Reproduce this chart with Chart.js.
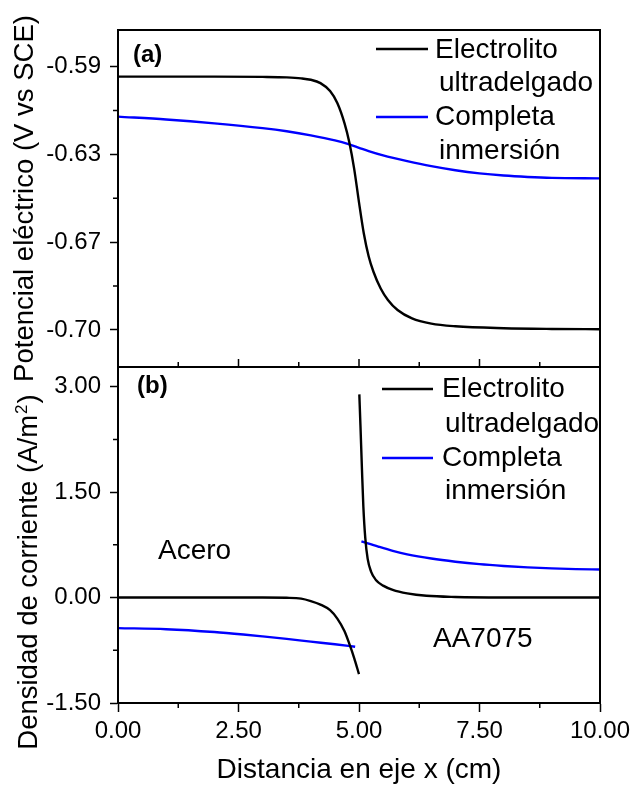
<!DOCTYPE html>
<html>
<head>
<meta charset="utf-8">
<script src="https://cdn.jsdelivr.net/npm/chart.js@4.4.1/dist/chart.umd.min.js"></script>
<style>
  html, body { margin: 0; padding: 0; background: #ffffff; }
  canvas { display: block; }
</style>
</head>
<body>
<canvas id="c" width="631" height="787"></canvas>
<script>
// ---------------- DATA ----------------
// Panel (a): electric potential (V vs SCE)
const xTopElectro = [0, 2, 3, 3.5, 3.8, 4.0, 4.2, 4.4, 4.55, 4.7, 4.8, 4.9, 5.0, 5.1, 5.2, 5.3, 5.45, 5.6, 5.8, 6.1, 6.5, 7.0, 8.0, 9.0, 10];
const yTopElectro = [-0.5975, -0.5975, -0.5976, -0.5978, -0.5982, -0.5988, -0.6002, -0.6035, -0.6085, -0.6170, -0.6250, -0.6360, -0.6500, -0.6630, -0.6725, -0.6790, -0.6860, -0.6908, -0.6950, -0.6985, -0.7007, -0.7018, -0.7026, -0.7029, -0.7030];

const xTopInmersion = [0, 1, 2, 3, 3.5, 4, 4.5, 4.8, 5.0, 5.2, 5.5, 6.0, 6.5, 7.0, 7.5, 8.0, 8.5, 9.0, 10];
const yTopInmersion = [-0.6142, -0.6154, -0.6170, -0.6190, -0.6203, -0.6220, -0.6241, -0.6258, -0.6272, -0.6286, -0.6304, -0.6328, -0.6349, -0.6366, -0.6379, -0.6388, -0.6394, -0.6398, -0.6400];

// Panel (b): current density (A/m2) - left (Acero) and right (AA7075) segments
const xBotElectroLeft = [0, 1, 2, 3, 3.5, 3.8, 4.0, 4.2, 4.4, 4.55, 4.7, 4.8, 4.9, 5.0];
const yBotElectroLeft = [0, 0, 0, 0, -0.003, -0.015, -0.05, -0.10, -0.18, -0.30, -0.48, -0.66, -0.86, -1.09];
const xBotElectroRight = [5.007, 5.03, 5.06, 5.09, 5.13, 5.18, 5.25, 5.35, 5.5, 5.7, 6.0, 6.4, 7.0, 8.0, 10];
const yBotElectroRight = [2.89, 2.45, 1.85, 1.30, 0.85, 0.55, 0.37, 0.25, 0.17, 0.11, 0.06, 0.025, 0.008, 0.001, 0];

const xBotInmersionLeft = [0, 1, 2, 2.6, 3, 3.5, 4, 4.5, 4.92];
const yBotInmersionLeft = [-0.435, -0.45, -0.49, -0.525, -0.552, -0.588, -0.627, -0.664, -0.70];
const xBotInmersionRight = [5.05, 5.4, 5.7, 6.0, 6.5, 7.0, 7.5, 8.0, 8.5, 9.0, 9.5, 10];
const yBotInmersionRight = [0.80, 0.725, 0.665, 0.615, 0.555, 0.51, 0.475, 0.45, 0.43, 0.415, 0.405, 0.40];

// Ticks
const xTickValues = [0, 2.5, 5, 7.5, 10];
const xTickLabels = ['0.00', '2.50', '5.00', '7.50', '10.00'];
const xMinorValues = [1.25, 3.75, 6.25, 8.75];
const topTickValues = [-0.70333, -0.66667, -0.63, -0.59333];
const topTickLabels = ['-0.70', '-0.67', '-0.63', '-0.59'];
const topMinorValues = [-0.685, -0.64833, -0.61167];
const botTickValues = [-1.5, 0, 1.5, 3.0];
const botTickLabels = ['-1.50', '0.00', '1.50', '3.00'];
const botMinorValues = [-0.75, 0.75, 2.25];

// Texts
const seriesNames = ['Electrolito ultradelgado', 'Completa inmersión'];
const legendLines = [['Electrolito', 'ultradelgado'], ['Completa', 'inmersión']];
const panelLabels = ['(a)', '(b)'];
const regionLabels = ['Acero', 'AA7075'];
const xTitle = 'Distancia en eje x (cm)';
const yTopTitle = 'Potencial eléctrico (V vs SCE)';
const yBotTitleParts = ['Densidad de corriente (A/m', '2', ')'];

// ---------------- STYLE ----------------
const FONT = "'Liberation Sans', Arial, Helvetica, sans-serif";
const BLACK = '#000000';
const BLUE = '#0000ff';

function pts(xs, ys) { return xs.map((x, i) => ({ x: x, y: ys[i] })); }
function gapJoin(a, b) {
  const gx = (a[a.length - 1].x + b[0].x) / 2;
  return a.concat([{ x: gx, y: null }], b);
}

const framePlugin = {
  id: 'frame',
  afterDraw(chart) {
    const { ctx, chartArea: a, scales } = chart;
    const sx = scales.x, yT = scales.yTop, yB = scales.yBot;
    ctx.save();
    ctx.strokeStyle = BLACK;
    ctx.lineWidth = 2;
    ctx.strokeRect(a.left, a.top, a.right - a.left, a.bottom - a.top);
    const mid = yT.bottom;
    ctx.beginPath(); ctx.moveTo(a.left, mid); ctx.lineTo(a.right, mid); ctx.stroke();
    ctx.lineWidth = 1.5;
    ctx.beginPath();
    xTickValues.forEach(v => { const p = sx.getPixelForValue(v); ctx.moveTo(p, mid); ctx.lineTo(p, mid - 8); });
    xMinorValues.forEach(v => { const p = sx.getPixelForValue(v); ctx.moveTo(p, mid); ctx.lineTo(p, mid - 5); });
    xMinorValues.forEach(v => { const p = sx.getPixelForValue(v); ctx.moveTo(p, a.bottom); ctx.lineTo(p, a.bottom + 5); });
    topMinorValues.forEach(v => { const p = yT.getPixelForValue(v); ctx.moveTo(a.left, p); ctx.lineTo(a.left - 5, p); });
    botMinorValues.forEach(v => { const p = yB.getPixelForValue(v); ctx.moveTo(a.left, p); ctx.lineTo(a.left - 5, p); });
    ctx.stroke();
    ctx.restore();
  }
};

const textPlugin = {
  id: 'texts',
  afterDraw(chart) {
    const ctx = chart.ctx;
    const ds = chart.data.datasets;
    ctx.save();
    ctx.fillStyle = BLACK;
    ctx.textAlign = 'left';
    ctx.textBaseline = 'alphabetic';
    ctx.font = 'bold 24px ' + FONT;
    ctx.fillText(panelLabels[0], 133, 62);
    ctx.fillText(panelLabels[1], 137, 393);
    ctx.font = '28px ' + FONT;
    ctx.fillText(regionLabels[0], 158, 559);
    ctx.fillText(regionLabels[1], 433, 647);

    function legend(x0, x1, tx, tx2, entries) {
      entries.forEach(e => {
        ctx.strokeStyle = e.color; ctx.lineWidth = 2.4;
        ctx.beginPath(); ctx.moveTo(x0, e.ly); ctx.lineTo(x1, e.ly); ctx.stroke();
        ctx.fillStyle = BLACK;
        ctx.fillText(e.lines[0], tx, e.b1);
        ctx.fillText(e.lines[1], tx2, e.b2);
      });
    }
    legend(376, 428, 435, 439, [
      { color: ds[0].borderColor, ly: 49, lines: legendLines[0], b1: 58, b2: 91 },
      { color: ds[1].borderColor, ly: 117, lines: legendLines[1], b1: 125, b2: 159 }
    ]);
    legend(382, 433, 442, 445, [
      { color: ds[2].borderColor, ly: 389, lines: legendLines[0], b1: 397, b2: 432 },
      { color: ds[3].borderColor, ly: 458, lines: legendLines[1], b1: 466, b2: 499 }
    ]);

    const fs = 27.5;
    ctx.save();
    ctx.translate(37, 572);
    ctx.rotate(-Math.PI / 2);
    ctx.font = fs + 'px ' + FONT;
    const w1 = ctx.measureText(yBotTitleParts[0]).width;
    const w3 = ctx.measureText(yBotTitleParts[2]).width;
    ctx.font = (fs * 0.62) + 'px ' + FONT;
    const w2 = ctx.measureText(yBotTitleParts[1]).width;
    let s = -(w1 + w2 + w3 + 2) / 2;
    ctx.font = fs + 'px ' + FONT;
    ctx.fillText(yBotTitleParts[0], s, 0);
    ctx.font = (fs * 0.62) + 'px ' + FONT;
    ctx.fillText(yBotTitleParts[1], s + w1 + 1, -fs * 0.38);
    ctx.font = fs + 'px ' + FONT;
    ctx.fillText(yBotTitleParts[2], s + w1 + w2 + 2, 0);
    ctx.restore();
    ctx.restore();
  }
};

const tickFont = { family: FONT, size: 24 };
const gridOpts = { display: true, drawOnChartArea: false, drawTicks: true, tickLength: 8, tickWidth: 1.5, tickColor: BLACK, color: BLACK };

new Chart(document.getElementById('c'), {
  type: 'line',
  data: {
    datasets: [
      { label: seriesNames[0], data: pts(xTopElectro, yTopElectro), yAxisID: 'yTop', borderColor: BLACK },
      { label: seriesNames[1], data: pts(xTopInmersion, yTopInmersion), yAxisID: 'yTop', borderColor: BLUE },
      { label: seriesNames[0], data: gapJoin(pts(xBotElectroLeft, yBotElectroLeft), pts(xBotElectroRight, yBotElectroRight)), yAxisID: 'yBot', borderColor: BLACK },
      { label: seriesNames[1], data: gapJoin(pts(xBotInmersionLeft, yBotInmersionLeft), pts(xBotInmersionRight, yBotInmersionRight)), yAxisID: 'yBot', borderColor: BLUE }
    ]
  },
  options: {
    responsive: false,
    animation: false,
    layout: { padding: { left: 0, right: 31, top: 30, bottom: 0 } },
    plugins: { legend: { display: false }, tooltip: { enabled: false } },
    elements: {
      point: { radius: 0 },
      line: { borderWidth: 2.4, cubicInterpolationMode: 'monotone', fill: false }
    },
    scales: {
      x: {
        type: 'linear', min: 0, max: 10, position: 'bottom',
        afterBuildTicks: s => { s.ticks = xTickValues.map(v => ({ value: v })); },
        afterFit: s => { s.height = 84; s.paddingLeft = 0; s.paddingRight = 0; },
        ticks: { autoSkip: false, maxRotation: 0, padding: 5, color: BLACK, font: tickFont, callback: (v, i) => xTickLabels[i] },
        grid: Object.assign({}, gridOpts, { tickLength: 9 }),
        border: { display: true, color: BLACK, width: 2 },
        title: { display: true, text: xTitle, color: BLACK, font: { family: FONT, size: 28 }, padding: { top: 0, bottom: 0 } }
      },
      yTop: {
        type: 'linear', position: 'left', stack: 'panels', stackWeight: 337, weight: 1,
        min: -0.7188, max: -0.578,
        afterBuildTicks: s => { s.ticks = topTickValues.map(v => ({ value: v })); },
        afterFit: s => { s.width = 118; s.paddingTop = 0; s.paddingBottom = 0; },
        ticks: { autoSkip: false, padding: 9, color: BLACK, font: tickFont, callback: (v, i) => topTickLabels[i] },
        grid: gridOpts,
        border: { display: true, color: BLACK, width: 2 },
        title: { display: true, text: yTopTitle, color: BLACK, font: { family: FONT, size: 27.5 }, padding: { top: 9, bottom: 0 } }
      },
      yBot: {
        type: 'linear', position: 'left', stack: 'panels', stackWeight: 336, weight: 0,
        min: -1.5, max: 3.28,
        afterBuildTicks: s => { s.ticks = botTickValues.map(v => ({ value: v })); },
        afterFit: s => { s.width = 118; s.paddingTop = 0; s.paddingBottom = 0; },
        ticks: { autoSkip: false, padding: 9, color: BLACK, font: tickFont, callback: (v, i) => botTickLabels[i] },
        grid: gridOpts,
        border: { display: true, color: BLACK, width: 2 }
      }
    }
  },
  plugins: [framePlugin, textPlugin]
});
</script>
</body>
</html>
